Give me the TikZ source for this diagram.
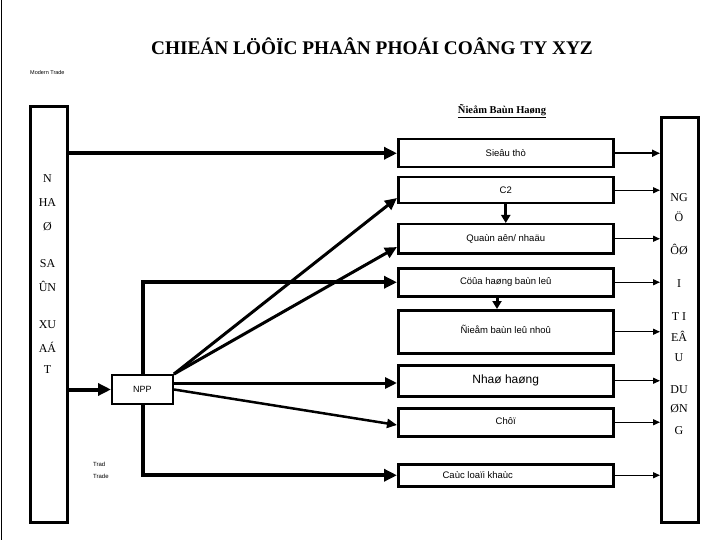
\documentclass[tikz,border=0pt]{standalone}
\usepackage{fontspec}
\setmainfont{Liberation Serif}
\setsansfont{Liberation Sans}
\usetikzlibrary{arrows.meta}
\tikzset{
  box/.style={draw, line width=2.5pt, minimum width=215pt, inner sep=0pt, anchor=north west,
    font=\sffamily\fontsize{9.5}{11}\selectfont},
  col/.style={draw, line width=3pt, minimum width=37pt, inner sep=0pt, anchor=north west},
  coltext/.style={align=center, inner sep=0pt, font=\fontsize{12}{12}\selectfont},
  thick arrow/.style={line width=4pt, -{Triangle[length=13pt,width=12pt]}},
  mid arrow/.style={line width=3pt, -{Triangle[length=12pt,width=11pt]}},
  thin arrow/.style={line width=1.3pt, -{Triangle[length=7pt,width=6pt]}},
  down arrow/.style={line width=3pt, -{Triangle[length=8pt,width=9pt]}},
}
\begin{document}
\begin{tikzpicture}[x=1pt,y=-1pt]
\useasboundingbox[fill=white] (0,0) rectangle (720,540);
\draw[line width=1pt] (1,0) -- (1,540);

% title and headings
\node[inner sep=0pt, font=\bfseries\fontsize{19.3}{22}\selectfont] (title) at (372,46) {CHIEÁN LÖÔÏC PHAÂN PHOÁI COÂNG TY XYZ};
\node[inner sep=0pt, anchor=west, font=\sffamily\fontsize{5.5}{6}\selectfont] (modern) at (30,73) {Modern Trade};
\node[inner sep=0pt, font=\bfseries\fontsize{10.5}{12}\selectfont] (diem) at (502,111) {\underline{Ñieåm Baùn Haøng}};

% side columns
\node[col, minimum height=416pt] (lb) at (29,105) {};
\node[col, minimum height=405pt] (rb) at (660,116) {};
\node[coltext, anchor=north] (lbt) at (47.5,174) {N\\[12pt]HA\\[12pt]Ø\\[25pt]SA\\[12pt]ÛN\\[25pt]XU\\[12pt]AÁ\\[9pt]T};
\node[coltext, anchor=north] (rbt) at (679,193) {NG\\[8pt]Ö\\[21pt]ÔØ\\[21pt]I\\[21pt]T I\\[9pt]EÂ\\[8pt]U\\[20pt]DU\\[7pt]ØN\\[10pt]G};

% outlet boxes
\node[box, minimum height=28pt] (st) at (397,138) {Sieâu thò};
\node[box, minimum height=26pt] (c2) at (397,176) {C2};
\node[box, minimum height=29pt] (qa) at (397,223) {Quaùn aên/ nhaäu};
\node[box, minimum height=28pt] (ch) at (397,267) {Cöûa haøng baùn leû};
\node[box, minimum height=43pt] (db) at (397,309) {\raisebox{4pt}{Ñieåm baùn leû nhoû}};
\node[box, minimum height=31pt, font=\sffamily\fontsize{12}{14}\selectfont] (nh) at (397,364) {Nhaø haøng};
\node[box, minimum height=28pt] (cho) at (397,407) {\raisebox{3pt}{Chôï}};
\node[box, minimum height=22pt] (ck) at (397,463) {\hspace*{-56pt}Caùc loaïi khaùc};

% distributor
\node[draw, line width=2pt, minimum width=61pt, minimum height=29pt, inner sep=0pt,
  font=\sffamily\fontsize{9}{10}\selectfont] (npp) at (142.5,389.5) {NPP};
\node[inner sep=0pt, anchor=west, font=\sffamily\fontsize{6}{7}\selectfont, align=left] (trad) at (93,470) {Trad\\[5pt]Trade};

% manufacturer connectors
\draw[thick arrow] (lb.east |- st.west) -- (st.west);
\draw[thick arrow] (lb.east |- npp.west) -- (npp.west);

% distributor connectors
\draw[mid arrow] (npp.north east) -- (c2.west |- 0,198);
\draw[mid arrow] (npp.north east) -- (qa.west |- 0,247);
\draw[thick arrow] (npp.north) |- (ch.west);
\draw[mid arrow] (npp.east |- 0,383) -- (nh.west |- 0,383);
\draw[line width=2.5pt, -{Triangle[length=10pt,width=9pt]}] (npp.east) -- (cho.west |- 0,425);
\draw[thick arrow] (npp.south) |- (ck.west);

% internal connectors
\draw[down arrow] (c2.south) -- (qa.north);
\draw[down arrow] (ch.south -| 497,0) -- (db.north -| 497,0);

% to consumers
\draw[line width=2.2pt, -{Triangle[length=8pt,width=7pt]}] (st.east) -- (st.east -| rb.west);
\draw[thin arrow] (c2.east) -- (c2.east -| rb.west);
\draw[thin arrow] (qa.east) -- (qa.east -| rb.west);
\draw[thin arrow] (ch.east) -- (ch.east -| rb.west);
\draw[thin arrow] (db.east) -- (db.east -| rb.west);
\draw[thin arrow] (nh.east) -- (nh.east -| rb.west);
\draw[thin arrow] (cho.east) -- (cho.east -| rb.west);
\draw[thin arrow] (ck.east) -- (ck.east -| rb.west);
\end{tikzpicture}
\end{document}
